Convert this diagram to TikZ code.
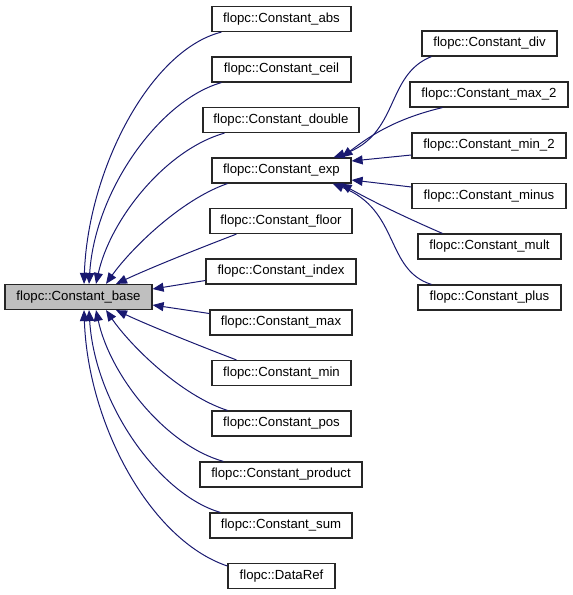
\documentclass[tikz,border=0pt]{standalone}
\usepackage{fontspec}
\setmainfont{Liberation Sans}
\usetikzlibrary{arrows.meta,calc}
\definecolor{edgeblue}{HTML}{191970}
\definecolor{basegray}{HTML}{BFBFBF}
\begin{document}
\begin{tikzpicture}[x=1pt,y=-1pt,
  cls/.style={draw=black!85,line width=1.2pt,minimum height=25pt,inner sep=0pt,
    font=\fontsize{13.2}{15}\selectfont,fill=white},
  inh/.style={draw=edgeblue,line width=1pt,-{Triangle[length=11pt,width=9pt]},edgeblue}]
\useasboundingbox (0,0) rectangle (573,595);
% nodes
\node[cls,fill=basegray,minimum width=147pt] (base) at (78.5,297) {flopc::Constant\_base};
\node[cls,minimum width=139pt] (abs) at (281.5,19) {flopc::Constant\_abs};
\node[cls,minimum width=139pt] (ceil) at (281.5,69.5) {flopc::Constant\_ceil};
\node[cls,minimum width=156pt] (double) at (281,120) {flopc::Constant\_double};
\node[cls,minimum width=139pt] (exp) at (281.5,170.5) {flopc::Constant\_exp};
\node[cls,minimum width=142pt] (floor) at (281,221) {flopc::Constant\_floor};
\node[cls,minimum width=150pt] (index) at (281,271.5) {flopc::Constant\_index};
\node[cls,minimum width=142pt] (max) at (281,322.5) {flopc::Constant\_max};
\node[cls,minimum width=139pt] (min) at (281.5,373) {flopc::Constant\_min};
\node[cls,minimum width=139pt] (pos) at (281.5,423.5) {flopc::Constant\_pos};
\node[cls,minimum width=162pt] (product) at (281,474.5) {flopc::Constant\_product};
\node[cls,minimum width=142pt] (sum) at (281,525.5) {flopc::Constant\_sum};
\node[cls,minimum width=107pt] (dataref) at (281.5,576) {flopc::DataRef};
\node[cls,minimum width=135pt] (div) at (489.5,43.5) {flopc::Constant\_div};
\node[cls,minimum width=158pt] (max2) at (489,94.5) {flopc::Constant\_max\_2};
\node[cls,minimum width=154pt] (min2) at (489,145.5) {flopc::Constant\_min\_2};
\node[cls,minimum width=154pt] (minus) at (489,196) {flopc::Constant\_minus};
\node[cls,minimum width=143pt] (mult) at (489.5,246.5) {flopc::Constant\_mult};
\node[cls,minimum width=143pt] (plus) at (489.5,297.5) {flopc::Constant\_plus};
% edges to base
\draw[inh] ($(abs.south west)+(10,0)$) .. controls (150,50) and (88,170) .. ($(base.north)+(5.5,0)$);
\draw[inh] ($(ceil.south west)+(10,0)$) .. controls (160,100) and (95,190) .. ($(base.north)+(10.5,0)$);
\draw[inh] ($(double.south west)+(22,0)$) .. controls (165,150) and (110,220) .. ($(base.north)+(17.5,0)$);
\draw[inh] ($(exp.south west)+(16,0)$) .. controls (180,200) and (130,250) .. ($(base.north)+(27.5,0)$);
\draw[inh] ($(floor.south west)+(27,0)$) .. controls (200,248) and (150,268) .. ($(base.north)+(37.5,0)$);
\draw[inh] ($(index.west)+(0,9)$) -- ($(base.east)+(0,-8)$);
\draw[inh] ($(max.west)+(0,-9)$) -- ($(base.east)+(0,8)$);
\draw[inh] ($(min.north west)+(25,0)$) .. controls (200,346) and (150,326) .. ($(base.south)+(37.5,0)$);
\draw[inh] ($(pos.north west)+(16,0)$) .. controls (180,395) and (130,345) .. ($(base.south)+(27.5,0)$);
\draw[inh] ($(product.north west)+(24,0)$) .. controls (165,445) and (110,375) .. ($(base.south)+(17.5,0)$);
\draw[inh] ($(sum.north west)+(11,0)$) .. controls (160,495) and (95,405) .. ($(base.south)+(10.5,0)$);
\draw[inh] ($(dataref.west)+(0,-10)$) .. controls (150,540) and (88,424) .. ($(base.south)+(5.5,0)$);
% edges to exp
\draw[inh] ($(div.south west)+(10,0)$) .. controls (385,75) and (400,135) .. ($(exp.north east)+(-18,0)$);
\draw[inh] ($(max2.south west)+(33,0)$) .. controls (390,120) and (365,140) .. ($(exp.north east)+(-10,0)$);
\draw[inh] ($(min2.west)+(0,9.5)$) -- ($(exp.east)+(0,-9.5)$);
\draw[inh] ($(minus.west)+(0,-9)$) -- ($(exp.east)+(0,9.5)$);
\draw[inh] ($(mult.north west)+(25,0)$) .. controls (400,215) and (370,200) .. ($(exp.south east)+(-11,0)$);
\draw[inh] ($(plus.north west)+(14,0)$) .. controls (385,270) and (400,210) .. ($(exp.south east)+(-19,0)$);
\end{tikzpicture}
\end{document}
